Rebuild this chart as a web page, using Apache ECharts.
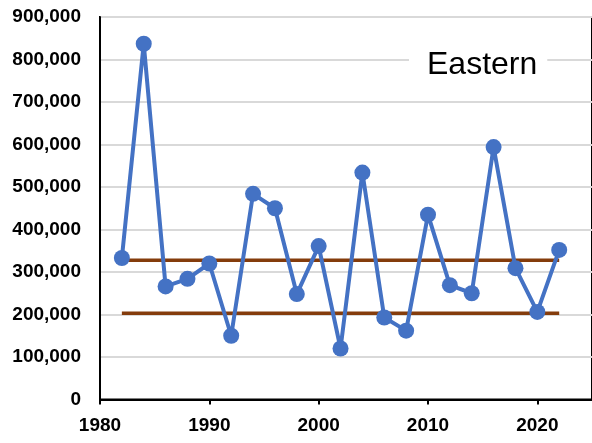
<!DOCTYPE html>
<html>
<head>
<meta charset="utf-8">
<script src="https://cdn.jsdelivr.net/npm/echarts@6/dist/echarts.min.js"></script>
<style>
  html, body { margin: 0; padding: 0; background: #fff; }
  #chart { width: 592px; height: 443px; }
</style>
</head>
<body>
<div id="chart"></div>
<script>
// Survey years and yearly totals for the Eastern region
const years = [1982, 1984, 1986, 1988, 1990, 1992, 1994, 1996, 1998, 2000,
               2002, 2004, 2006, 2008, 2010, 2012, 2014, 2016, 2018, 2020, 2022];
const totals = [333000, 837000, 266000, 284000, 320000, 150000, 484000, 450000, 248000, 361000,
                120000, 534000, 193000, 162000, 435000, 269000, 250000, 594000, 309000, 206000, 352000];

// Horizontal reference levels, drawn across the span of the series
const bandHigh = 327500;
const bandLow = 203000;
const bandSpan = [1982, 2022];

const regionName = 'Eastern';

const yTicks = { min: 0, max: 900000, step: 100000 };
const xTicks = { min: 1980, max: 2025, step: 10 };

const fmt = v => v.toLocaleString('en-US');
const labelFont = 'Liberation Sans, Arial, sans-serif';

const chart = echarts.init(document.getElementById('chart'), null, { renderer: 'canvas' });

chart.setOption({
  animation: false,
  backgroundColor: '#fff',
  title: {
    text: regionName,
    left: 409,
    top: 45,
    backgroundColor: '#fff',
    padding: [4, 10, 4, 18],
    textStyle: {
      fontFamily: labelFont,
      fontSize: 32,
      fontWeight: 'normal',
      color: '#000'
    }
  },
  grid: {
    left: 100,
    right: -1,
    top: 17,
    bottom: 43.5,
    show: true,
    borderColor: '#000',
    borderWidth: 2,
    containLabel: false
  },
  xAxis: {
    type: 'value',
    min: xTicks.min,
    max: xTicks.max,
    interval: xTicks.step,
    axisLine: { show: true, onZero: false, lineStyle: { color: '#000', width: 2 } },
    axisTick: { show: true, length: 5, lineStyle: { color: '#000', width: 2 } },
    splitLine: { show: false },
    axisLabel: {
      showMaxLabel: false,
      margin: 17,
      fontFamily: labelFont,
      fontSize: 19,
      fontWeight: 'bold',
      color: '#000',
      formatter: v => String(v)
    }
  },
  yAxis: {
    type: 'value',
    min: yTicks.min,
    max: yTicks.max,
    interval: yTicks.step,
    axisLine: { show: true, lineStyle: { color: '#000', width: 2 } },
    axisTick: { show: false },
    splitLine: { show: true, lineStyle: { color: '#d9d9d9', width: 2 } },
    axisLabel: {
      margin: 19,
      fontFamily: labelFont,
      fontSize: 19,
      fontWeight: 'bold',
      color: '#000',
      formatter: v => fmt(v)
    }
  },
  series: [
    {
      type: 'line',
      data: bandSpan.map(x => [x, bandHigh]),
      symbol: 'none',
      lineStyle: { color: '#843C0C', width: 3.5 },
      z: 2
    },
    {
      type: 'line',
      data: bandSpan.map(x => [x, bandLow]),
      symbol: 'none',
      lineStyle: { color: '#843C0C', width: 3.5 },
      z: 2
    },
    {
      type: 'line',
      data: years.map((y, i) => [y, totals[i]]),
      symbol: 'circle',
      symbolSize: 16,
      lineStyle: { color: '#4472C4', width: 4 },
      itemStyle: { color: '#4472C4' },
      z: 3
    }
  ]
});
</script>
</body>
</html>
